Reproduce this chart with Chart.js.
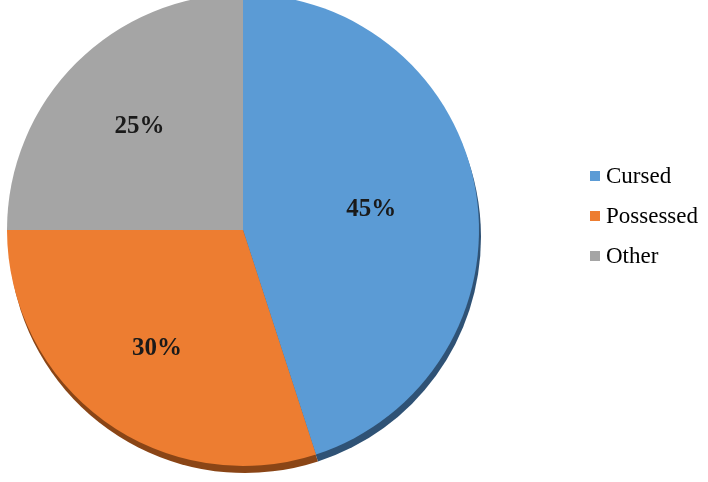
<!DOCTYPE html>
<html>
<head>
<meta charset="utf-8">
<script src="https://cdn.jsdelivr.net/npm/chart.js@4"></script>
<style>
  body { margin: 0; background: #fff; overflow: hidden; }
  #wrap { position: absolute; left: 0; top: -6px; width: 708px; height: 488px; }
</style>
</head>
<body>
<div id="wrap"><canvas id="myChart"></canvas></div>
<script>
let categories = ['Cursed', 'Possessed', 'Other'];
let shares = [45, 30, 25];
let sliceColors = ['#5b9bd5', '#ed7d31', '#a5a5a5'];
let edgeColors = ['#2f5275', '#8a4516', '#5f5f5f'];

// darker rim under the pie, offset a little down/right
const rimPlugin = {
    id: 'rim',
    beforeDatasetsDraw(chart) {
        const c = chart.ctx;
        const arcs = chart.getDatasetMeta(0).data;
        arcs.forEach((a, i) => {
            c.save();
            c.fillStyle = edgeColors[i];
            c.beginPath();
            c.moveTo(a.x + 2, a.y + 7);
            c.arc(a.x + 2, a.y + 7, a.outerRadius, a.startAngle, a.endAngle);
            c.closePath();
            c.fill();
            c.restore();
        });
    }
};

// percentage labels inside slices (big slice label sits a bit further in)
const labelPlugin = {
    id: 'sliceLabels',
    afterDatasetsDraw(chart) {
        const c = chart.ctx;
        const arcs = chart.getDatasetMeta(0).data;
        c.save();
        c.font = 'bold 25px "Liberation Serif", serif';
        c.fillStyle = '#1a1a1a';
        c.textAlign = 'center';
        c.textBaseline = 'middle';
        arcs.forEach((a, i) => {
            const mid = (a.startAngle + a.endAngle) / 2;
            const r = a.outerRadius * (i === 0 ? 0.55 : 0.62);
            c.fillText(shares[i] + '%', a.x + Math.cos(mid) * r, a.y + Math.sin(mid) * r);
        });
        c.restore();
    }
};

// legend on the right (canvas is shifted 6px up)
const legendPlugin = {
    id: 'sideLegend',
    afterDraw(chart) {
        const c = chart.ctx;
        c.save();
        c.font = '23px "Liberation Serif", serif';
        c.textBaseline = 'middle';
        c.textAlign = 'left';
        categories.forEach((name, i) => {
            const y = 182 + i * 40;
            c.fillStyle = sliceColors[i];
            c.fillRect(590, y - 5, 10, 10);
            c.fillStyle = '#000';
            c.fillText(name, 606, y + 1);
        });
        c.restore();
    }
};

const ctx = document.getElementById('myChart').getContext('2d');
const myChart = new Chart(ctx, {
    type: 'pie',
    data: {
        labels: categories,
        datasets: [{
            data: shares,
            backgroundColor: sliceColors,
            borderWidth: 0
        }]
    },
    options: {
        responsive: true,
        maintainAspectRatio: false,
        animation: false,
        layout: {
            padding: { left: 7, top: 0, right: 229, bottom: 16 }
        },
        plugins: {
            legend: { display: false },
            tooltip: { enabled: false }
        }
    },
    plugins: [rimPlugin, labelPlugin, legendPlugin]
});
</script>
</body>
</html>
